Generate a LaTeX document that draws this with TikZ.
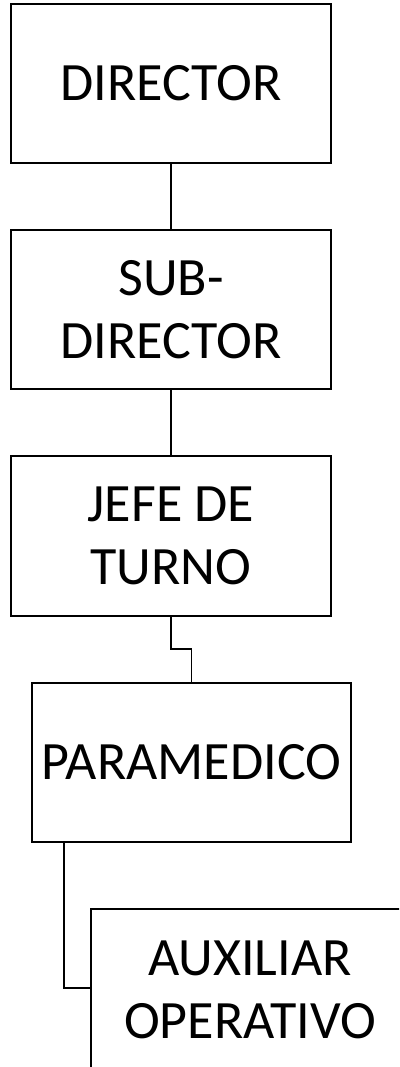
\documentclass[tikz,border=0pt]{standalone}
\usepackage{fontspec}
\setmainfont{Carlito}
\begin{document}
\begin{tikzpicture}[x=1pt,y=-1pt,
  box/.style={draw=black,line width=1.5pt,rectangle,inner sep=0pt,align=center,
    font=\fontsize{54}{63}\selectfont},
  conn/.style={draw=black,line width=1.5pt}]
\clip (0,0) rectangle (399,1067);
\fill[white] (0,0) rectangle (399,1067);
\node[box,minimum width=320pt,minimum height=159pt] (dir) at (171,83.5) {DIRECTOR};
\node[box,minimum width=320pt,minimum height=159pt] (sub) at (171,309.5) {SUB-\\DIRECTOR};
\node[box,minimum width=320pt,minimum height=160pt] (jefe) at (171,536) {JEFE DE\\TURNO};
\node[box,minimum width=319pt,minimum height=159pt] (para) at (191.5,762.5) {PARAMEDICO};
\node[box,minimum width=318pt,minimum height=162pt] (aux) at (250,990) {AUXILIAR\\OPERATIVO};
\draw[conn] (dir.south) -- (sub.north);
\draw[conn] (sub.south) -- (jefe.north);
\coordinate (j1) at (171,649);
\draw[conn] (jefe.south) -- (j1) -| (para.north);
\coordinate (p1) at (64,842);
\coordinate (a1) at (91,988);
\draw[conn] (p1) |- (a1);
\end{tikzpicture}
\end{document}
